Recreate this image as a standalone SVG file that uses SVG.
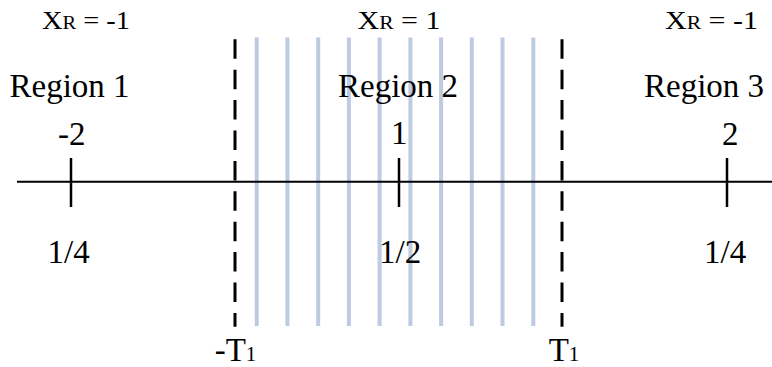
<svg xmlns="http://www.w3.org/2000/svg" width="772" height="367" viewBox="0 0 772 367">
<style>
text{font-family:"Liberation Serif","Times New Roman",serif;fill:#000;}
.lbl{font-size:33px;}
.xr{font-size:25px;}
.sub{font-size:18px;}
.sub1{font-size:21px;}
.band{stroke:#bccbe2;stroke-width:4;fill:none;}
.dash{stroke:#000;stroke-width:3;stroke-dasharray:19.5 10.9;fill:none;}
.axis{stroke:#000;stroke-width:2;fill:none;}
.tick{stroke:#000;stroke-width:2.5;fill:none;}
</style>
<rect width="772" height="367" fill="#fff"/>
<g id="region2-band">
<line class="band" x1="256.7" y1="37.5" x2="256.7" y2="326"/>
<line class="band" x1="287.4" y1="37.5" x2="287.4" y2="326"/>
<line class="band" x1="318.2" y1="37.5" x2="318.2" y2="326"/>
<line class="band" x1="348.9" y1="37.5" x2="348.9" y2="326"/>
<line class="band" x1="379.6" y1="37.5" x2="379.6" y2="326"/>
<line class="band" x1="410.4" y1="37.5" x2="410.4" y2="326"/>
<line class="band" x1="441.1" y1="37.5" x2="441.1" y2="326"/>
<line class="band" x1="471.8" y1="37.5" x2="471.8" y2="326"/>
<line class="band" x1="502.5" y1="37.5" x2="502.5" y2="326"/>
<line class="band" x1="533.3" y1="37.5" x2="533.3" y2="326"/>
</g>
<g id="connectors">
<line class="dash" x1="235" y1="39.3" x2="235" y2="326.7"/>
<line class="dash" x1="562" y1="39.3" x2="562" y2="326.7"/>
<line class="axis" x1="17" y1="181.7" x2="772" y2="181.7"/>
<line class="tick" x1="71" y1="158" x2="71" y2="207"/>
<line class="tick" x1="399" y1="158" x2="399" y2="207"/>
<line class="tick" x1="727" y1="158" x2="727" y2="207"/>
</g>
<g id="region1">
<text class="xr" x="42" y="29" textLength="88" lengthAdjust="spacingAndGlyphs">X<tspan class="sub">R</tspan> = -1</text>
<text class="lbl" x="9.5" y="97">Region 1</text>
<text class="lbl" x="58" y="145">-2</text>
<text class="lbl" x="47.5" y="263">1/4</text>
</g>
<g id="region2">
<text class="xr" x="357.5" y="29" textLength="83" lengthAdjust="spacingAndGlyphs">X<tspan class="sub">R</tspan> = 1</text>
<text class="lbl" x="338" y="97">Region 2</text>
<text class="lbl" x="391" y="144">1</text>
<text class="lbl" x="379" y="263">1/2</text>
</g>
<g id="region3">
<text class="xr" x="665" y="29" textLength="93" lengthAdjust="spacingAndGlyphs">X<tspan class="sub">R</tspan> = -1</text>
<text class="lbl" x="644" y="97">Region 3</text>
<text class="lbl" x="722" y="145">2</text>
<text class="lbl" x="704" y="263">1/4</text>
</g>
<g id="boundary-left">
<text class="lbl" x="214.7" y="361">-T<tspan class="sub1">1</tspan></text>
</g>
<g id="boundary-right">
<text class="lbl" x="548.7" y="361">T<tspan class="sub1">1</tspan></text>
</g>
</svg>
